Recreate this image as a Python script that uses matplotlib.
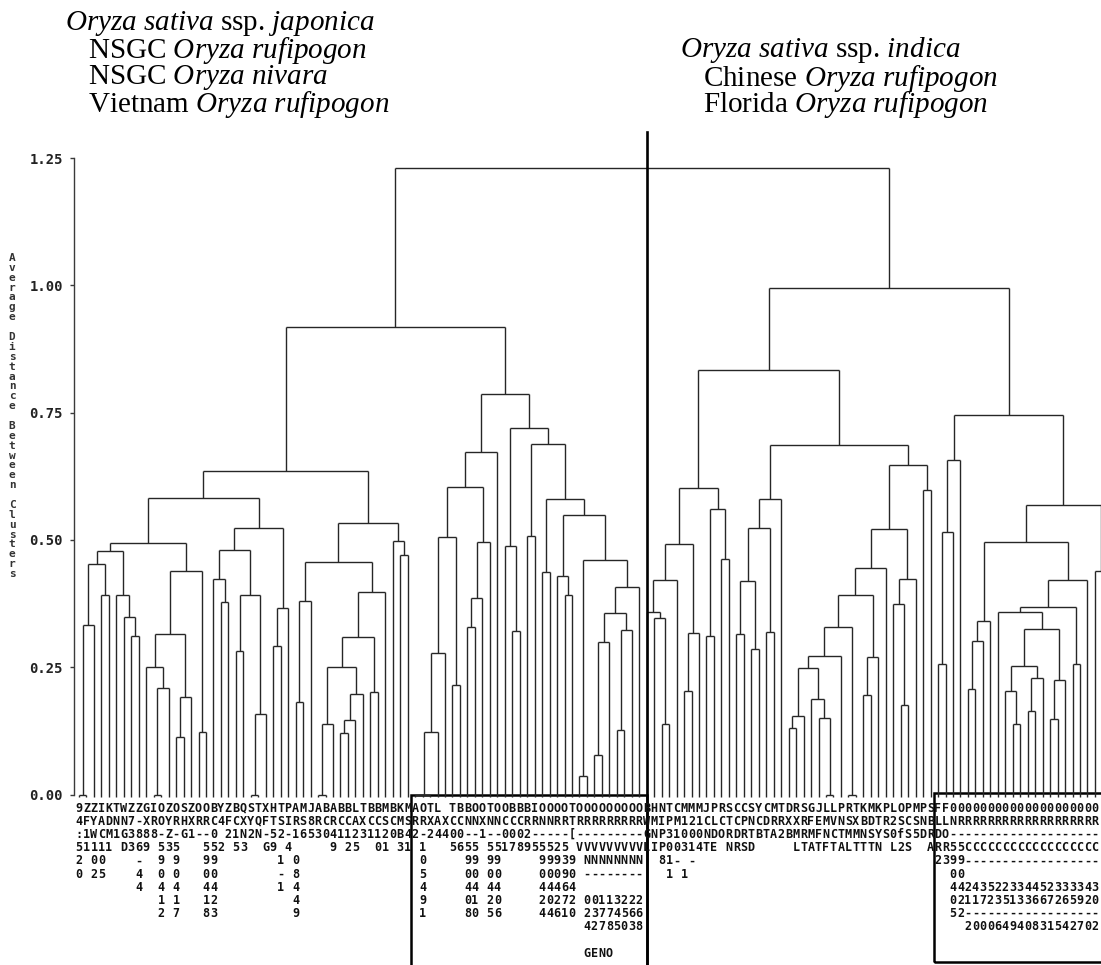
import matplotlib
matplotlib.use("Agg")
import matplotlib.pyplot as plt
import matplotlib.transforms as mtransforms
from matplotlib.collections import LineCollection
from matplotlib.patches import Rectangle

plt.rcParams["mathtext.fontset"] = "custom"
plt.rcParams["mathtext.rm"] = "Liberation Serif"
plt.rcParams["mathtext.it"] = "Liberation Serif:italic"

W, H = 1101, 965
X = "x"          # one accession
BASE = -0.005    # leaf stubs start just under zero

# clusters written as (merge distance, left, right)
japonica = (0.635,
    (0.583,
        (0.494,
            (0.479,
                (0.453, (0.333, (0.0, X, X), X), (0.391, X, X)),
                (0.392, X, (0.348, X, (0.311, X, X)))),
            (0.438,
                (0.315,
                    (0.250, X, (0.210, (0.0, X, X), X)),
                    (0.191, (0.112, X, X), X)),
                (0.123, X, X))),
        (0.524,
            (0.481,
                (0.423, X, (0.378, X, X)),
                (0.392, (0.282, X, X), (0.159, (0.0, X, X), X))),
            (0.366, (0.291, X, X), X))),
    (0.533,
        (0.456,
            (0.380, (0.181, X, X), X),
            (0.398,
                (0.309,
                    (0.250, (0.139, (0.0, X, X), X),
                            (0.197, (0.146, (0.121, X, X), X), X)),
                    (0.201, X, X)),
                X)),
        (0.497, X, (0.470, X, X))))

middle = (0.787,
    (0.672,
        (0.604,
            (0.505,
                (0.278, (0.123, (0.0, (0.0, X, X), X), X), X),
                (0.216, X, X)),
            (0.496, (0.386, (0.328, X, X), X), X)),
        X),
    (0.720,
        (0.488, X, (0.322, X, X)),
        (0.689,
            (0.508, X, X),
            (0.580,
                (0.436, X, X),
                (0.548,
                    (0.430, X, (0.391, X, X)),
                    (0.461,
                        (0.036, X, X),
                        (0.407,
                            (0.356, (0.299, (0.077, X, X), X),
                                    (0.324, (0.127, X, X), X)),
                            X)))))))

indica_a = (0.601,
    (0.492,
        (0.421, (0.358, X, (0.347, X, (0.139, X, X))), X),
        (0.317, (0.203, X, X), X)),
    (0.561, (0.312, X, X), (0.462, X, X)))
indica_b = (0.580, (0.524, (0.419, (0.315, X, X), (0.285, X, X)), (0.320, X, X)), X)
indica_c = (0.444,
    (0.392,
        (0.328,
            (0.272,
                (0.248, (0.154, (0.131, X, X), X),
                        (0.187, X, (0.150, X, (0.0, X, X)))),
                X),
            (0.0, X, X)),
        (0.270, (0.196, X, X), X)),
    X)
indica_d = (0.423, (0.374, X, (0.175, X, X)), X)
indica_e = (0.598, X, X)
indica_f = (0.656, (0.515, (0.256, X, X), X), X)
indica_g = (0.569,
    (0.496,
        (0.341, (0.301, (0.208, X, X), X), X),
        (0.421,
            (0.368,
                (0.358, X,
                    (0.325,
                        (0.252, (0.203, X, (0.139, X, X)), (0.229, (0.164, X, X), X)),
                        (0.225, (0.148, X, X), X))),
                (0.257, X, X)),
            X)),
    (0.438, X, (0.300, X, X)))

tree = (1.231,
    (0.919, japonica, middle),
    (0.994,
        (0.834, indica_a, (0.687, indica_b, (0.648, (0.521, indica_c, indica_d), indica_e))),
        (0.746, indica_f, indica_g)))

# accession names, printed down the columns (one string per text row)
japonica_rows = [
    "9ZZIKTWZZGIOZOSZOOBYZBQSTXHTPAMJABABBLTBBMBKM",
    "4FYADNN7-XROYRHXRRC4FCXYQFTSIRS8RCRCCAXCCSCMS",
    ":1WCM1G3888-Z-G1--0 21N2N-52-16530411231120B4",
    "51111 D369 535   552 53  G9 4     9 25  01 31",
    "2 00    -  9 9   99        1 0",
    "0 25    4  0 0   00        - 8",
    "        4  4 4   44        1 4",
    "           1 1   12          4",
    "           2 7   83          9",
]
middle_rows = [
    "AOTL TBBOOTOOBBBIOOOOTOOOOOOOOO",
    "RRXAXCCNNXNNCCCRRNNRRTRRRRRRRRR",
    "2-24400--1--0002-----[---------",
    " 1   5655 55178955525 VVVVVVVVV",
    " 0     99 99     99939 NNNNNNNNN",
    " 5     00 00     00090 ---------",
    " 4     44 44     44464",
    " 9     01 20     20272 001132223",
    " 1     80 56     44610 237745665",
    "                       427850385",
    "",
    "                       GENO",
]
indica_rows = [
    "BHNTCMMMJPRSCCSYCMTDRSGJLLPRTKMKPLOPMPS" + "FF0000000000000000000000",
    "WMIPM121CLCTCPNCDRRXXRFEMVNSXBDTR2SCSNB" + "LLNRRRRRRRRRRRRRRRRRRRRR",
    "GNP31000NDORDRTBTA2BMRMFNCTMMNSYS0fS5DR" + "DO----------------------",
    "LIP00314TE NRSD     LTATFTALTTTN L2S  A" + "RR55CCCCCCCCCCCCCCCCCCCC",
    "  81- -                                " + "2399--------------------",
    "   1 1                                 " + "  00",
    "                                       " + "  4424352233445233334350",
    "                                       " + "  0211723513366726592000",
    "                                       " + "  52--------------------",
    "                                       " + "    20006494083154270200",
]
group_sizes = [45, 31, 63]

y_ticks = [0.0, 0.25, 0.50, 0.75, 1.00, 1.25]
y_title = "Average Distance Between Clusters"


def walk(node, nxt, segs):
    if node == X:
        return nxt, nxt + 1, BASE
    h, a, b = node
    xa, nxt, ha = walk(a, nxt, segs)
    xb, nxt, hb = walk(b, nxt, segs)
    segs += [[(xa, ha), (xa, h)], [(xb, hb), (xb, h)], [(xa, h), (xb, h)]]
    return (xa + xb) / 2, nxt, h


segs = []
_, n_leaves, _ = walk(tree, 0, segs)

fig = plt.figure(figsize=(W / 100, H / 100), dpi=100)
x0_px, pitch = 79.0, 7.47
ax_left, ax_bottom, ax_top = 74.0, 794.5, 158.0
ax = fig.add_axes([ax_left / W, 1 - ax_bottom / H, (W - ax_left) / W, (ax_bottom - ax_top) / H])
ax.set_xlim((ax_left - x0_px) / pitch, (W - x0_px) / pitch)
ax.set_ylim(0, 1.25)

ax.add_collection(LineCollection(segs, colors="#262626", linewidths=1.0, clip_on=False))

for s in ("top", "right", "bottom"):
    ax.spines[s].set_visible(False)
ax.spines["left"].set_color("#3a3a3a")
ax.spines["left"].set_linewidth(1.0)
ax.set_xticks([])
ax.set_yticks(y_ticks)
ax.set_yticklabels([f"{v:.2f}" for v in y_ticks], family="DejaVu Sans Mono",
                   fontweight="bold", fontsize=10, color="#222222")
ax.tick_params(axis="y", length=3, width=1, pad=5, color="#3a3a3a")

# stacked axis title, one character per line
for k, ch in enumerate(y_title):
    fig.text(12 / W, 1 - (258 + k * 9.875) / H, ch, ha="center", va="center",
             family="DejaVu Sans Mono", fontweight="bold", fontsize=8, color="#333333")

# accession labels under the leaves; columns past the right edge are left out
lab = mtransforms.blended_transform_factory(ax.transData, fig.transFigure)
last_col = int((W - 4 - x0_px) / pitch)
n_rows = max(len(japonica_rows), len(middle_rows), len(indica_rows))
for r in range(n_rows):
    line = ""
    for rows, size in zip((japonica_rows, middle_rows, indica_rows), group_sizes):
        part = rows[r] if r < len(rows) else ""
        line += part.ljust(size)[:size]
    for i, ch in enumerate(line[:last_col + 1]):
        if ch != " ":
            ax.text(i, 1 - (808 + r * 13.2) / H, ch, transform=lab, ha="center", va="center",
                    family="DejaVu Sans Mono", fontweight="bold", fontsize=8.5,
                    color="#111111", clip_on=False)

# group boxes round the labels and the divider between subspecies
split = group_sizes[0] + group_sizes[1]
ax.add_patch(Rectangle((group_sizes[0] - 0.5, 1 - 995 / H), split - group_sizes[0] + 0.5, 200 / H,
                       transform=lab, fill=False, lw=1.8, ec="black", clip_on=False))
box2 = split + 39 - 0.5
ax.add_patch(Rectangle((box2, 1 - 962 / H), 40, 169 / H,
                       transform=lab, fill=False, lw=1.8, ec="black", clip_on=False))
ax.plot([split, split], [1 - 132 / H, 0.0], transform=lab, color="black", lw=1.9, clip_on=False)

# group captions
serif = dict(family="Liberation Serif", fontsize=21, color="black", va="center", ha="left")
fig.text(65 / W, 1 - 23 / H, r"$\mathit{Oryza\ sativa}$ ssp. $\mathit{japonica}$", **serif)
fig.text(88 / W, 1 - 50 / H, r"NSGC $\mathit{Oryza\ rufipogon}$", **serif)
fig.text(88 / W, 1 - 77 / H, r"NSGC $\mathit{Oryza\ nivara}$", **serif)
fig.text(88 / W, 1 - 104 / H, r"Vietnam $\mathit{Oryza\ rufipogon}$", **serif)
fig.text(680 / W, 1 - 50 / H, r"$\mathit{Oryza\ sativa}$ ssp. $\mathit{indica}$", **serif)
fig.text(703 / W, 1 - 78 / H, r"Chinese $\mathit{Oryza\ rufipogon}$", **serif)
fig.text(703 / W, 1 - 105 / H, r"Florida $\mathit{Oryza\ rufipogon}$", **serif)

fig.savefig("out.png", dpi=100)
